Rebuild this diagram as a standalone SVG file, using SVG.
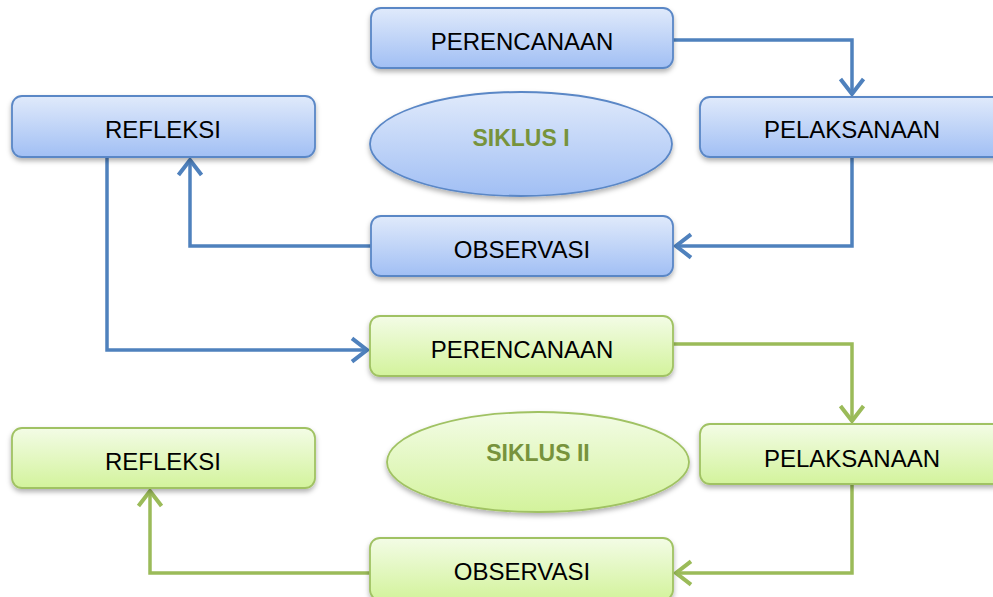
<svg xmlns="http://www.w3.org/2000/svg" width="993" height="597" viewBox="0 0 993 597">
<defs>
<linearGradient id="gb" x1="0" y1="0" x2="0" y2="1">
<stop offset="0" stop-color="#E0EAFB"/><stop offset="1" stop-color="#A1BFF4"/>
</linearGradient>
<linearGradient id="gg" x1="0" y1="0" x2="0" y2="1">
<stop offset="0" stop-color="#F3FCE6"/><stop offset="1" stop-color="#D3F39C"/>
</linearGradient>
<filter id="sh" x="-10%" y="-20%" width="120%" height="150%">
<feDropShadow dx="0" dy="3" stdDeviation="2.5" flood-color="#000" flood-opacity="0.3"/>
</filter>
<marker id="ab" markerUnits="userSpaceOnUse" markerWidth="30" markerHeight="30" viewBox="-16 -13 20 26" refX="0" refY="0" orient="auto">
<path d="M-13,-10 L0,0 L-13,10" fill="none" stroke="#4F81BD" stroke-width="3.5" stroke-linejoin="miter"/>
</marker>
<marker id="ag" markerUnits="userSpaceOnUse" markerWidth="30" markerHeight="30" viewBox="-16 -13 20 26" refX="0" refY="0" orient="auto">
<path d="M-13,-10 L0,0 L-13,10" fill="none" stroke="#9BBB59" stroke-width="3.5" stroke-linejoin="miter"/>
</marker>
</defs>
<style>
.bb{fill:url(#gb);stroke:#5A87C6;stroke-width:1.8;filter:url(#sh)}
.bg{fill:url(#gg);stroke:#A0C263;stroke-width:1.8;filter:url(#sh)}
.t{font-family:"Liberation Sans",Arial,sans-serif;font-size:24px;fill:#000;text-anchor:middle}
.s{font-family:"Liberation Sans",Arial,sans-serif;font-size:23px;font-weight:bold;fill:#77933C;text-anchor:middle}
.cb{fill:none;stroke:#4F81BD;stroke-width:3.5;marker-end:url(#ab)}
.cg{fill:none;stroke:#9BBB59;stroke-width:3.5;marker-end:url(#ag)}
</style>
<g id="connectors">
<path class="cb" d="M673,40 H852 V94"/>
<path class="cb" d="M852,157 V246 H676"/>
<path class="cb" d="M371,246 H190 V160"/>
<path class="cb" d="M107,157 V350 H367"/>
<path class="cg" d="M673,344 H852 V421"/>
<path class="cg" d="M852,484 V573 H676"/>
<path class="cg" d="M370,573 H150 V491"/>
</g>
<g id="perencanaan1"><rect class="bb" x="371" y="8" width="302" height="60" rx="10"/><text class="t" x="522" y="50">PERENCANAAN</text></g>
<g id="pelaksanaan1"><rect class="bb" x="700" y="97" width="303" height="60" rx="10"/><text class="t" x="852" y="138">PELAKSANAAN</text></g>
<g id="refleksi1"><rect class="bb" x="12" y="96" width="303" height="61" rx="10"/><text class="t" x="163" y="138">REFLEKSI</text></g>
<g id="siklus1"><ellipse class="bb" cx="521" cy="144" rx="151" ry="52"/><text class="s" x="521" y="146">SIKLUS I</text></g>
<g id="observasi1"><rect class="bb" x="371" y="216" width="302" height="60" rx="10"/><text class="t" x="522" y="258">OBSERVASI</text></g>
<g id="perencanaan2"><rect class="bg" x="370" y="316" width="303" height="60" rx="10"/><text class="t" x="522" y="358">PERENCANAAN</text></g>
<g id="pelaksanaan2"><rect class="bg" x="700" y="424" width="303" height="60" rx="10"/><text class="t" x="852" y="467">PELAKSANAAN</text></g>
<g id="refleksi2"><rect class="bg" x="12" y="428" width="303" height="60" rx="10"/><text class="t" x="163" y="470">REFLEKSI</text></g>
<g id="siklus2"><ellipse class="bg" cx="538" cy="462" rx="151" ry="50"/><text class="s" x="538" y="461">SIKLUS II</text></g>
<g id="observasi2"><rect class="bg" x="370" y="538" width="303" height="62" rx="10"/><text class="t" x="522" y="580">OBSERVASI</text></g>
</svg>
